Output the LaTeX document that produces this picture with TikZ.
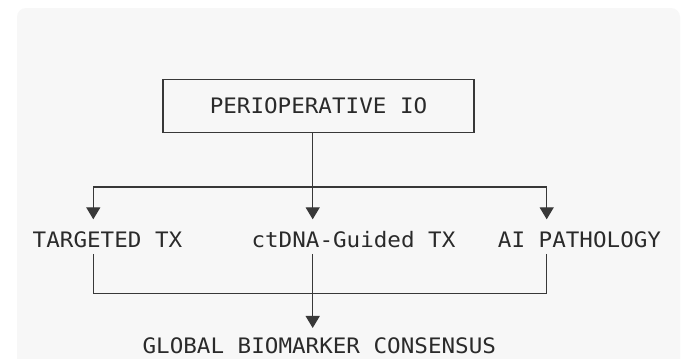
\documentclass[tikz,border=0pt]{standalone}
\usepackage{fontspec}
\setmonofont[FakeStretch=1.06]{DejaVu Sans Mono}
\usetikzlibrary{arrows.meta}
\definecolor{bgpanel}{HTML}{F7F7F7}
\definecolor{inkline}{HTML}{383838}
\definecolor{inktext}{HTML}{2A2A2A}
\tikzset{
  conn/.style={draw=inkline, line width=1.4pt},
  arr/.style={conn, -{Triangle[width=14pt,length=12pt]}, shorten >=12pt},
  lbl/.style={inner sep=0pt, anchor=base, text=inktext, font=\ttfamily\fontsize{21.3}{24}\selectfont},
  titlebox/.style={draw=inkline, line width=1.4pt, minimum width=311pt, minimum height=53.5pt, inner sep=0pt, text=inktext, font=\ttfamily\fontsize{21.3}{24}\selectfont}
}
\begin{document}
\begin{tikzpicture}[x=1pt,y=-1pt]
\useasboundingbox (0,0) rectangle (681,359);
\fill[white] (0,0) rectangle (681,359);
\fill[bgpanel, rounded corners=9pt] (17,8) rectangle (680,390);
% nodes
\node[titlebox] (io) at (318.5,106) {PERIOPERATIVE IO};
\node[lbl] (t1) at (107.5,247.3) {TARGETED TX};
\node[lbl] (t2) at (353.5,247.3) {ctDNA-Guided TX};
\node[lbl] (t3) at (579.5,247.3) {AI PATHOLOGY};
\node[lbl] (bot) at (319.3,353.5) {GLOBAL BIOMARKER CONSENSUS};
% junctions
\coordinate (jl) at (93.3,187);
\coordinate (jm) at (312.7,187);
\coordinate (jr) at (546.7,187);
\coordinate (kl) at (93.3,293.3);
\coordinate (km) at (312.7,293.3);
\coordinate (kr) at (546.7,293.3);
% upper fan-out
\draw[conn] (io.south -| jm) -- (jm);
\draw[conn] (jl) -- (jr);
\draw[arr] (jl) -- (jl |- t1.north);
\draw[arr] (jm) -- (jm |- t1.north);
\draw[arr] (jr) -- (jr |- t1.north);
% lower merge
\draw[conn, shorten <=6pt] (kl |- t1.south) -- (kl) -- (kr);
\draw[conn, shorten <=6pt] (kr |- t3.south) -- (kr);
\draw[conn, shorten <=6pt] (km |- t2.south) -- (km);
\draw[arr, shorten >=9.5pt] (km) -- (km |- bot.north);
\end{tikzpicture}
\end{document}
